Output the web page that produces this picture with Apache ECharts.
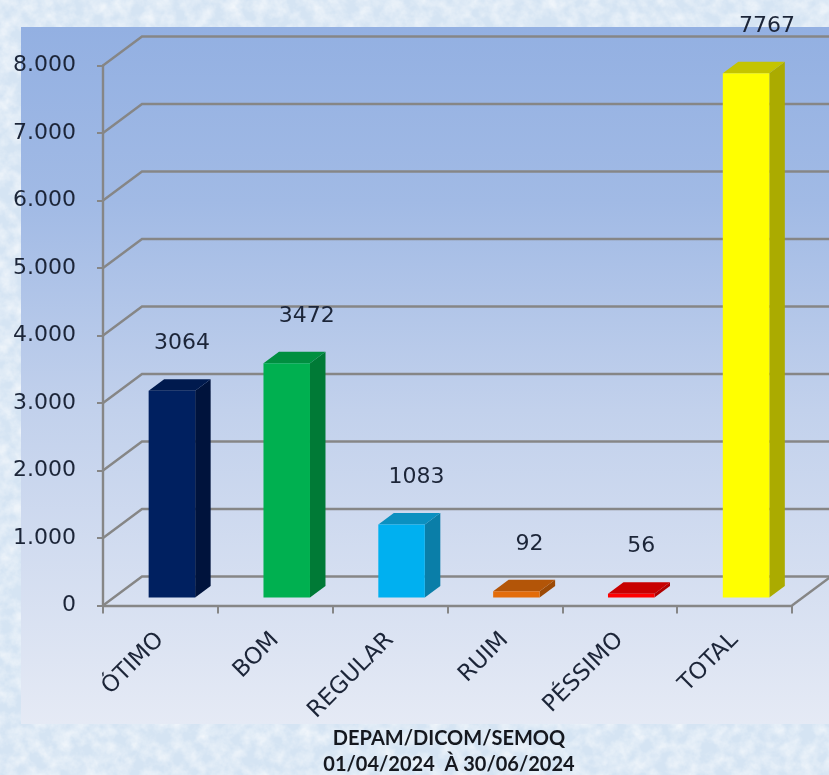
<!DOCTYPE html>
<html>
<head>
<meta charset="utf-8">
<title>DEPAM/DICOM/SEMOQ</title>
<script src="https://cdn.jsdelivr.net/npm/echarts@6/dist/echarts.min.js"></script>
<style>
  html, body { margin: 0; padding: 0; width: 829px; height: 775px; overflow: hidden; background-color: #dcebf8; }
  body {
    background-image: url("data:image/svg+xml;utf8,<svg xmlns='http://www.w3.org/2000/svg' width='829' height='775'><filter id='n'><feTurbulence type='fractalNoise' baseFrequency='0.07' numOctaves='4' seed='7'/><feColorMatrix values='0 0 0 0 1  0 0 0 0 1  0 0 0 0 1  1.2 0 0 0 -0.4'/></filter><rect width='829' height='775' fill='%23d5e4f3'/><rect width='829' height='775' filter='url(%23n)'/></svg>");
  }
  #main { width: 829px; height: 775px; filter: blur(0.4px); }
</style>
</head>
<body>
<div id="main"></div>
<script>
const categories = ['ÓTIMO', 'BOM', 'REGULAR', 'RUIM', 'PÉSSIMO', 'TOTAL']
const values = [3064, 3472, 1083, 92, 56, 7767]
const yTicks = [0, 1000, 2000, 3000, 4000, 5000, 6000, 7000, 8000]

const frontColors = ['#002060', '#00b050', '#00b0f0', '#e36c0a', '#ff0000', '#ffff00']
const sideColors = ['#00133c', '#007a36', '#0a7ea8', '#9c4a06', '#b00000', '#abab00']
const topColors = ['#001a4e', '#008f40', '#0b90c0', '#b35508', '#c80000', '#c4c400']
const labelShift = [10, 20, 15, 13, 10, 21]

const textFont = '"DejaVu Sans", sans-serif'
const textColor = '#1c2538'
const lineColor = '#868686'
const wallDx = 39
const wallDy = -29
const barLift = 8

const chart = echarts.init(document.getElementById('main'))

function renderWall(params, api) {
  const sys = params.coordSys
  const p = api.coord([0, api.value(0)])
  const x0 = sys.x
  const y0 = p[1]
  const children = [{
    type: 'polyline',
    shape: { points: [[x0, y0], [x0 + wallDx, y0 + wallDy], [x0 + sys.width + wallDx, y0 + wallDy]] },
    style: { fill: null, stroke: lineColor, lineWidth: 2.4 }
  }]
  if (params.dataIndex === 0) {
    children.push({
      type: 'line',
      shape: { x1: x0 + sys.width, y1: y0, x2: x0 + sys.width + wallDx, y2: y0 + wallDy },
      style: { stroke: lineColor, lineWidth: 2.4 }
    })
  }
  return { type: 'group', children }
}

function renderBar(params, api) {
  const i = params.dataIndex
  const band = api.size([1, 0])[0]
  const c = api.coord([api.value(0), api.value(1)])
  const w = band * 0.405
  const dx = 15.5
  const dy = -11.5
  const x1 = c[0] + band * 0.1 - w / 2
  const x2 = x1 + w
  const top = c[1] - barLift
  const bottom = api.coord([api.value(0), 0])[1] - barLift
  return {
    type: 'group',
    children: [
      {
        type: 'polygon',
        shape: { points: [[x2, top], [x2 + dx, top + dy], [x2 + dx, bottom + dy], [x2, bottom]] },
        style: { fill: sideColors[i] }
      },
      {
        type: 'polygon',
        shape: { points: [[x1, top], [x1 + dx, top + dy], [x2 + dx, top + dy], [x2, top]] },
        style: { fill: topColors[i] }
      },
      {
        type: 'rect',
        shape: { x: x1, y: top, width: w, height: bottom - top },
        style: { fill: frontColors[i] }
      },
      {
        type: 'text',
        style: {
          text: String(api.value(1)),
          x: c[0] + band * 0.1 + labelShift[i],
          y: top - 47,
          align: 'center',
          verticalAlign: 'middle',
          font: '22px ' + textFont,
          fill: textColor
        }
      }
    ]
  }
}

chart.setOption({
  animation: false,
  backgroundColor: 'transparent',
  graphic: [{
    type: 'rect',
    z: -10,
    shape: { x: 21, y: 27, width: 808, height: 697 },
    style: {
      fill: new echarts.graphic.LinearGradient(0, 0, 0, 1, [
        { offset: 0, color: '#93b0e2' },
        { offset: 0.25, color: '#a1bae5' },
        { offset: 0.55, color: '#c2d1ec' },
        { offset: 1, color: '#e5eaf5' }
      ])
    }
  }],
  title: {
    text: 'DEPAM/DICOM/SEMOQ\n01/04/2024  À 30/06/2024',
    left: 444,
    top: 721,
    textAlign: 'center',
    textStyle: {
      fontFamily: 'Lato, sans-serif',
      fontWeight: 'bold',
      fontSize: 20,
      lineHeight: 26,
      color: '#15181f'
    }
  },
  grid: { left: 103, right: 37, top: 65.5, bottom: 169.5 },
  xAxis: {
    type: 'category',
    data: categories,
    axisLine: { lineStyle: { color: lineColor, width: 2.4 } },
    axisTick: { show: true, length: 8, lineStyle: { color: lineColor, width: 2 } },
    axisLabel: {
      rotate: 45,
      interval: 0,
      margin: 31,
      fontFamily: textFont,
      fontSize: 23,
      color: textColor
    }
  },
  yAxis: {
    type: 'value',
    min: 0,
    max: 8000,
    interval: 1000,
    splitLine: { show: false },
    axisLine: { show: true, lineStyle: { color: lineColor, width: 2.4 } },
    axisTick: { show: true, length: 6, lineStyle: { color: lineColor, width: 2 } },
    axisLabel: {
      margin: 27,
      padding: [3, 0, 0, 0],
      fontFamily: textFont,
      fontSize: 22,
      color: textColor,
      formatter: function (v) {
        return v === 0 ? '0' : (v / 1000) + '.000'
      }
    }
  },
  series: [
    {
      type: 'custom',
      z: 1,
      silent: true,
      renderItem: renderWall,
      encode: { y: 0 },
      data: yTicks.map(v => [v])
    },
    {
      type: 'custom',
      z: 3,
      renderItem: renderBar,
      encode: { x: 0, y: 1 },
      data: values.map((v, i) => [i, v])
    }
  ]
})
</script>
</body>
</html>
